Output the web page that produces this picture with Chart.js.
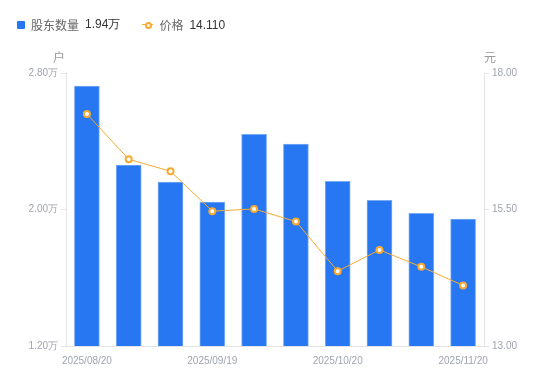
<!DOCTYPE html>
<html>
<head>
<meta charset="utf-8">
<script src="https://cdn.jsdelivr.net/npm/chart.js@4.4.0/dist/chart.umd.min.js"></script>
<style>
  body { margin: 0; background: #fff; }
  #wrap { position: relative; width: 550px; height: 381px; }
  #legend { position: absolute; left: 17px; top: 16px; font: 12px "Noto Sans CJK SC", "Noto Sans", sans-serif; color: #666; display: flex; align-items: center; }
  .item { display: flex; align-items: center; margin-right: 22px; }
  .sq { width: 8px; height: 8px; background: #2677f1; border-radius: 1px; margin-right: 6px; }
  .mk { position: relative; width: 11px; height: 8px; margin-right: 6px; }
  .mk:before { content: ""; position: absolute; left: 0; top: 3.5px; width: 11px; height: 1px; background: #f7aa32; }
  .mk:after { content: ""; position: absolute; left: 2.5px; top: 1px; width: 3px; height: 3px; border: 2px solid #f7aa32; border-radius: 50%; background: #fff; }
  .val { color: #333; margin-left: 6px; font-family: "Liberation Sans", Arial, sans-serif; }
</style>
</head>
<body>
<div id="wrap">
  <canvas id="chart" width="550" height="381"></canvas>
  <div id="legend"></div>
</div>
<script>
var dates = ["2025/08/20", "2025/08/29", "2025/09/10", "2025/09/19", "2025/09/30",
             "2025/10/10", "2025/10/20", "2025/10/31", "2025/11/10", "2025/11/20"];
var holders = [2.724, 2.261, 2.161, 2.044, 2.441, 2.384, 2.165, 2.054, 1.978, 1.944]; // 万户
var prices = [17.25, 16.42, 16.20, 15.47, 15.51, 15.28, 14.37, 14.76, 14.45, 14.11];
var shownTicks = [0, 3, 6, 9];
var leftTicks = [1.20, 2.00, 2.80];
var rightTicks = [13.00, 15.50, 18.00];

var blue = '#2677f1';
var orange = '#f7aa32';
var tickColor = '#a0a4b0';
var lineColor = '#e3e4e8';

// legend
document.getElementById('legend').innerHTML =
  '<div class="item"><span class="sq"></span>股东数量<span class="val">' + holders[holders.length - 1].toFixed(2) + '万</span></div>' +
  '<div class="item"><span class="mk"></span>价格<span class="val">' + prices[prices.length - 1].toFixed(3) + '</span></div>';

var axisTitles = {
  id: 'axisTitles',
  afterDraw: function(chart) {
    var ctx = chart.ctx;
    ctx.save();
    ctx.font = '12px "Noto Sans CJK SC", sans-serif';
    ctx.fillStyle = '#999';
    ctx.textAlign = 'center';
    ctx.textBaseline = 'middle';
    ctx.fillText('户', chart.scales.y.right - 7, 57);
    ctx.fillText('元', chart.scales.y1.left + 6, 57);
    ctx.restore();
  }
};

var tickFont = { family: '"Liberation Sans", Arial, sans-serif', size: 10 };

new Chart(document.getElementById('chart'), {
  data: {
    labels: dates,
    datasets: [{
      type: 'line',
      label: '价格',
      data: prices,
      yAxisID: 'y1',
      borderColor: orange,
      borderWidth: 1,
      pointRadius: 3,
      pointBorderWidth: 2,
      pointBackgroundColor: '#fff',
      pointBorderColor: orange,
      tension: 0,
      order: 0
    }, {
      type: 'bar',
      label: '股东数量',
      data: holders,
      yAxisID: 'y',
      backgroundColor: blue,
      borderColor: '#7aabf6',
      borderWidth: 1,
      barThickness: 25,
      order: 1
    }]
  },
  options: {
    responsive: false,
    animation: false,
    layout: { padding: { top: 73, left: 0, right: 0, bottom: 0 } },
    plugins: { legend: { display: false }, tooltip: { enabled: false } },
    scales: {
      x: {
        offset: true,
        grid: { display: false },
        border: { color: lineColor },
        afterFit: function(s) { s.height = 35; },
        ticks: {
          autoSkip: false, maxRotation: 0, color: tickColor, font: tickFont, padding: 1,
          callback: function(v, i) { return shownTicks.indexOf(i) >= 0 ? dates[i] : ''; }
        }
      },
      y: {
        position: 'left',
        min: leftTicks[0], max: leftTicks[2],
        afterBuildTicks: function(s) { s.ticks = leftTicks.map(function(v) { return { value: v }; }); },
        afterFit: function(s) { s.width = 66; },
        grid: { drawOnChartArea: false, tickLength: 5, color: lineColor },
        border: { color: lineColor },
        ticks: { color: tickColor, font: tickFont, padding: 3,
          callback: function(v) { return Number(v).toFixed(2) + '万'; } }
      },
      y1: {
        position: 'right',
        min: rightTicks[0], max: rightTicks[2],
        afterBuildTicks: function(s) { s.ticks = rightTicks.map(function(v) { return { value: v }; }); },
        afterFit: function(s) { s.width = 66; },
        grid: { drawOnChartArea: false, tickLength: 5, color: lineColor },
        border: { color: lineColor },
        ticks: { color: tickColor, font: tickFont, padding: 3,
          callback: function(v) { return Number(v).toFixed(2); } }
      }
    }
  },
  plugins: [axisTitles]
});
</script>
</body>
</html>
